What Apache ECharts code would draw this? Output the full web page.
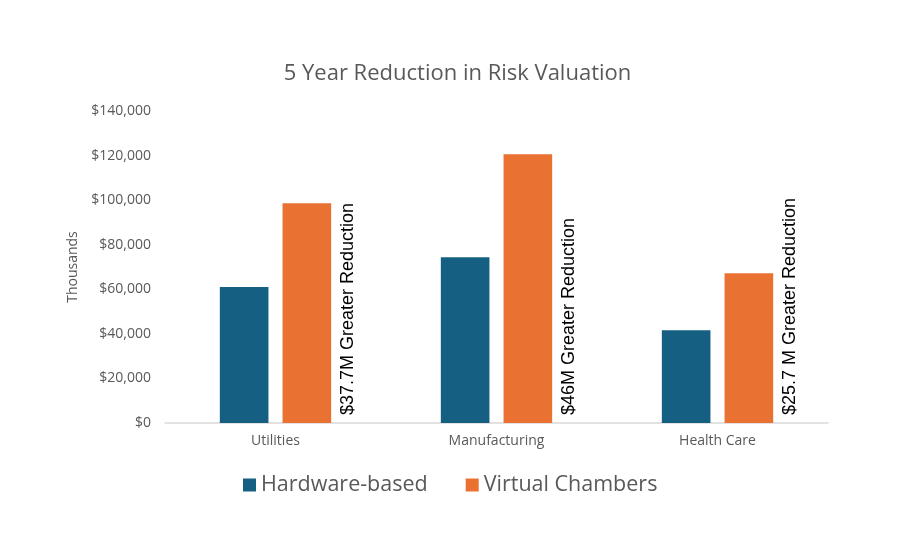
<!DOCTYPE html>
<html>
<head>
<meta charset="UTF-8" />
<title>5 Year Reduction in Risk Valuation</title>
<style>
    html, body { margin: 0; padding: 0; background: #fff; }
    #chart { width: 915px; height: 541px; }
</style>
</head>
<body>
<div id="chart"></div>
<script src="https://cdn.jsdelivr.net/npm/echarts@6/dist/echarts.min.js"></script>
<script>
    const categories = ["Utilities", "Manufacturing", "Health Care"];
    const hardwareBased = [61000, 74400, 41600];
    const virtualChambers = [98600, 120600, 67200];
    const reductionNotes = ["$37.7M Greater Reduction", "$46M Greater Reduction", "$25.7 M Greater Reduction"];
    const yTicks = { min: 0, max: 140000, interval: 20000 };

    const font = "Open Sans";
    const grey = "#595959";

    const chart = echarts.init(document.getElementById("chart"));
    chart.setOption({
        animation: false,
        title: {
            text: "5 Year Reduction in Risk Valuation",
            left: "center",
            top: 58,
            textStyle: { fontFamily: font, fontSize: 22, fontWeight: "normal", color: grey },
        },
        legend: {
            bottom: 40,
            left: 238,
            itemWidth: 13,
            itemHeight: 13,
            itemGap: 38,
            icon: "rect",
            textStyle: { fontFamily: font, fontSize: 21.5, color: grey },
            data: ["Hardware-based", "Virtual Chambers"],
        },
        grid: { left: 165, right: 87, top: 111, bottom: 118 },
        xAxis: {
            type: "category",
            data: categories,
            axisLine: { lineStyle: { color: "#d9d9d9", width: 1.5 } },
            axisTick: { show: false },
            axisLabel: { fontFamily: font, fontSize: 14, color: grey, margin: 11 },
        },
        yAxis: {
            type: "value",
            min: yTicks.min,
            max: yTicks.max,
            interval: yTicks.interval,
            name: "Thousands",
            nameLocation: "middle",
            nameGap: 85,
            nameTextStyle: { fontFamily: font, fontSize: 14, color: grey },
            splitLine: { show: false },
            axisLine: { show: false },
            axisTick: { show: false },
            axisLabel: {
                fontFamily: font,
                fontSize: 14,
                color: grey,
                margin: 14,
                formatter: (v) => "$" + v.toLocaleString("en-US"),
            },
        },
        series: [
            {
                name: "Hardware-based",
                type: "bar",
                data: hardwareBased,
                barWidth: "22%",
                barGap: "29%",
                itemStyle: { color: "#156082" },
            },
            {
                name: "Virtual Chambers",
                type: "bar",
                data: virtualChambers,
                barWidth: "22%",
                itemStyle: { color: "#E97132" },
                label: {
                    show: true,
                    position: ["100%", "100%"],
                    // offset is in the rotated frame: [up, right]
                    offset: [8, 17],
                    rotate: 90,
                    align: "left",
                    verticalAlign: "middle",
                    fontFamily: "Liberation Sans",
                    fontSize: 18,
                    color: "#000",
                    formatter: (p) => reductionNotes[p.dataIndex],
                },
            },
        ],
    });
</script>
</body>
</html>
